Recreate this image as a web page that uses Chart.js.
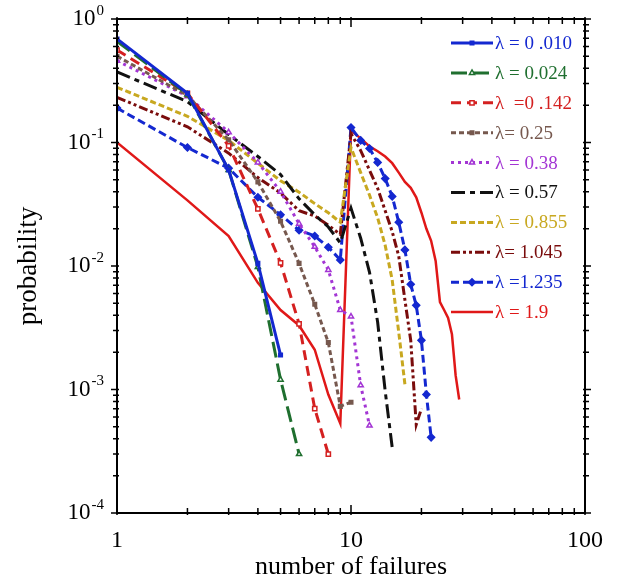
<!DOCTYPE html>
<html>
<head>
<meta charset="utf-8">
<script src="https://cdn.jsdelivr.net/npm/chart.js@4.4.1/dist/chart.umd.min.js"></script>
<style>
  html, body { margin: 0; padding: 0; background: #fff; }
</style>
</head>
<body>
<canvas id="chart" width="624" height="583"></canvas>
<script>
// number of failures (x values, shared by every series)
const failures = [1, 2, 3, 4, 5, 6, 7, 8, 9, 10, 11, 12, 13, 14, 15, 16, 17, 18, 19, 20,
  21, 22, 23, 24, 25, 26, 27, 28, 29];

const lambdaLabels = ['λ = 0 .010', 'λ = 0.024', 'λ  =0 .142', 'λ= 0.25', 'λ = 0.38',
  'λ = 0.57', 'λ = 0.855', 'λ= 1.045', 'λ =1.235', 'λ = 1.9'];

// probability per number of failures
const p0010 = [0.69, 0.25, 0.06, 0.0105, 0.0019];
const p0024 = [0.66, 0.245, 0.06, 0.0098, 0.0012, 0.0003];
const p0142 = [0.56, 0.25, 0.094, 0.029, 0.0106, 0.0034, 0.0007, 0.0003];
const p025 = [0.50, 0.24, 0.105, 0.048, 0.023, 0.0105, 0.0049, 0.0024, 0.00073, 0.00079];
const p038 = [0.46, 0.237, 0.121, 0.069, 0.040, 0.022, 0.0143, 0.0093, 0.0044, 0.0039,
  0.00108, 0.00051];
const p057 = [0.373, 0.214, 0.116, 0.077, 0.055, 0.035, 0.026, 0.0207, 0.0154, 0.0294,
  0.0168, 0.0089, 0.0035, 0.00097, 0.00034];
const p0855 = [0.28, 0.163, 0.104, 0.068, 0.049, 0.0396, 0.032, 0.027, 0.0226, 0.091,
  0.057, 0.0375, 0.0245, 0.0147, 0.0077, 0.0029, 0.0011];
const p1045 = [0.232, 0.134, 0.082, 0.052, 0.039, 0.028, 0.0254, 0.0214, 0.018, 0.118,
  0.086, 0.0595, 0.0426, 0.028, 0.019, 0.012, 0.0053, 0.0025, 0.00052, 0.0007];
const p1235 = [0.19, 0.091, 0.062, 0.036, 0.026, 0.0195, 0.0175, 0.0142, 0.0112, 0.132,
  0.104, 0.0895, 0.069, 0.051, 0.0366, 0.0226, 0.0135, 0.0071, 0.0048, 0.0025, 0.00091, 0.00041];
const p19 = [0.1, 0.034, 0.0175, 0.0073, 0.0044, 0.0033, 0.0021, 0.00091, 0.00053, 0.125,
  0.108, 0.093, 0.085, 0.077, 0.068, 0.057, 0.048, 0.043, 0.036, 0.027, 0.020, 0.016,
  0.011, 0.0051, 0.0044, 0.0038, 0.0028, 0.0013, 0.00083];

const yDecades = [1, 0.1, 0.01, 0.001, 0.0001];
const xDecadeLabels = [1, 10, 100];

const serif = "'Liberation Serif', 'DejaVu Serif', serif";

// line styles, one per series
const styles = [
  { color: '#1428d0', dash: [], width: 3, point: 'rect', radius: 2.5, fill: true },
  { color: '#1f6f2f', dash: [16, 6], width: 3, point: 'triangle', radius: 3, fill: false },
  { color: '#d42020', dash: [10, 6], width: 3, point: 'rect', radius: 3, fill: false },
  { color: '#76584e', dash: [5, 3], width: 3, point: 'rect', radius: 2.5, fill: true },
  { color: '#a335d4', dash: [3, 4], width: 3, point: 'triangle', radius: 3, fill: false },
  { color: '#111111', dash: [14, 5, 5, 5], width: 3, point: false, radius: 0 },
  { color: '#c8a820', dash: [6, 3], width: 3, point: false, radius: 0 },
  { color: '#7a0c0c', dash: [9, 3, 3, 3, 3, 3], width: 3, point: false, radius: 0 },
  { color: '#1428d0', dash: [8, 4], width: 3, point: 'rectRot', radius: 3.5, fill: true },
  { color: '#e01818', dash: [], width: 2.5, point: false, radius: 0 },
];

const seriesValues = [p0010, p0024, p0142, p025, p038, p057, p0855, p1045, p1235, p19];

const datasets = seriesValues.map((vals, i) => {
  const s = styles[i];
  return {
    label: lambdaLabels[i],
    data: vals.map((v, k) => ({ x: failures[k], y: v })),
    borderColor: s.color,
    borderWidth: s.width,
    borderDash: s.dash,
    pointStyle: s.point,
    pointRadius: s.radius,
    pointBorderWidth: 1.5,
    pointBorderColor: s.color,
    pointBackgroundColor: s.fill ? s.color : '#fff',
    tension: 0,
    fill: false,
  };
});

// box, ticks and the 10^n labels
const frameAndTicks = {
  id: 'frameAndTicks',
  afterDraw(chart) {
    const { ctx, chartArea: a, scales: { x, y } } = chart;
    ctx.save();
    ctx.strokeStyle = '#000';
    ctx.lineWidth = 2;
    ctx.strokeRect(a.left, a.top, a.right - a.left, a.bottom - a.top);

    ctx.lineWidth = 1.5;
    ctx.beginPath();
    for (let d = 1; d < 100; d *= 10) {
      for (let m = 1; m <= 10; m++) {
        const px = x.getPixelForValue(d * m);
        const major = m === 1 || m === 10;
        const len = major ? 8 : 5;
        ctx.moveTo(px, a.bottom + 2); ctx.lineTo(px, a.bottom - len);
        ctx.moveTo(px, a.top - 2); ctx.lineTo(px, a.top + len);
      }
    }
    for (let d = 0.0001; d < 1; d *= 10) {
      for (let m = 1; m <= 10; m++) {
        const py = y.getPixelForValue(d * m);
        const major = m === 1 || m === 10;
        const len = major ? 6 : 4;
        ctx.moveTo(a.left + 2, py); ctx.lineTo(a.left - len, py);
        ctx.moveTo(a.right - 2, py); ctx.lineTo(a.right + len, py);
      }
    }
    ctx.stroke();

    ctx.fillStyle = '#000';
    ctx.textBaseline = 'middle';
    yDecades.forEach(v => {
      const py = y.getPixelForValue(v);
      const exp = String(Math.round(Math.log10(v)));
      ctx.font = `15px ${serif}`;
      ctx.textAlign = 'right';
      const right = a.left - 13;
      ctx.fillText(exp, right, py - 8);
      const ew = ctx.measureText(exp).width;
      ctx.font = `23px ${serif}`;
      ctx.fillText('10', right - ew - 1, py);
    });
    ctx.restore();
  },
};

// legend drawn inside the plot, top right
const insideLegend = {
  id: 'insideLegend',
  afterDraw(chart) {
    const { ctx } = chart;
    ctx.save();
    chart.data.datasets.forEach((ds, i) => {
      const yy = 43 + i * 29.9;
      const x0 = 451, x1 = 493;
      ctx.strokeStyle = ds.borderColor;
      ctx.lineWidth = ds.borderWidth;
      ctx.setLineDash(ds.borderDash);
      ctx.beginPath();
      ctx.moveTo(x0, yy); ctx.lineTo(x1, yy);
      ctx.stroke();
      ctx.setLineDash([]);
      if (ds.pointStyle) {
        ctx.fillStyle = ds.pointBackgroundColor;
        ctx.lineWidth = ds.pointBorderWidth;
        Chart.helpers.drawPoint(ctx, {
          pointStyle: ds.pointStyle, radius: ds.pointRadius, rotation: 0,
          borderWidth: ds.pointBorderWidth,
        }, 472, yy);
      }
      ctx.fillStyle = ds.borderColor;
      ctx.font = `19px ${serif}`;
      ctx.textAlign = 'left';
      ctx.textBaseline = 'middle';
      ctx.fillText(ds.label, x1 + 2, yy + 1);
    });
    ctx.restore();
  },
};

new Chart(document.getElementById('chart'), {
  type: 'line',
  data: { datasets },
  plugins: [frameAndTicks, insideLegend],
  options: {
    responsive: false,
    animation: false,
    devicePixelRatio: 1,
    layout: { padding: { top: 19, right: 39, left: 0, bottom: 0 } },
    plugins: { legend: { display: false }, tooltip: { enabled: false } },
    scales: {
      x: {
        type: 'logarithmic',
        min: 1,
        max: 100,
        afterBuildTicks: s => { s.ticks = xDecadeLabels.map(v => ({ value: v })); },
        afterFit: s => { s.height = 70; },
        grid: { display: false },
        border: { display: false },
        ticks: {
          autoSkip: false,
          maxRotation: 0,
          padding: 5,
          color: '#000',
          font: { family: serif, size: 24 },
          callback: v => String(v),
        },
        title: {
          display: true,
          text: 'number of failures',
          color: '#000',
          font: { family: serif, size: 26 },
          padding: { top: 0, bottom: 0 },
        },
      },
      y: {
        type: 'logarithmic',
        min: 0.0001,
        max: 1,
        afterBuildTicks: s => { s.ticks = yDecades.map(v => ({ value: v })); },
        afterFit: s => { s.width = 117; },
        grid: { display: false },
        border: { display: false },
        ticks: { display: false },
        title: {
          display: true,
          text: 'probability',
          color: '#000',
          font: { family: serif, size: 27 },
          padding: { top: 13, bottom: 0 },
        },
      },
    },
  },
});
</script>
</body>
</html>
